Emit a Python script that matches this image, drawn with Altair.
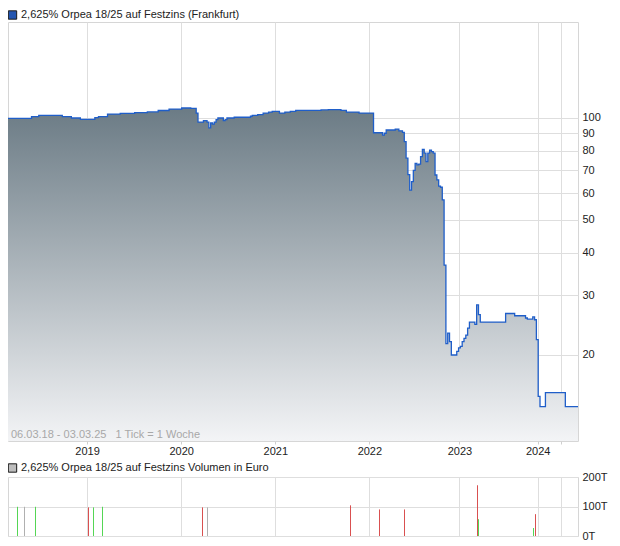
import altair as alt
import pandas as pd

# ---------------- data ----------------
TITLE_PRICE = "2,625% Orpea 18/25 auf Festzins (Frankfurt)"
TITLE_VOL = "2,625% Orpea 18/25 auf Festzins Volumen in Euro"
RANGE_TEXT = "06.03.18 - 03.03.25\u00a0\u00a0\u00a01 Tick = 1 Woche"

# x axis: one tick = one trading week (index); year boundaries as week index
year_ticks = [43.7, 95.7, 147.7, 199.7, 249.5, 292.7, 305.8]
year_labels = ["2019", "2020", "2021", "2022", "2023", "2024", ""]
week_domain = [0, 315]

# price (step series, change points)
week = [0, 13, 17, 30, 35, 40, 48, 50, 55, 62, 70, 77, 83, 89, 96, 101,
        104, 105, 108, 110, 111, 112, 113, 114, 115, 116, 119, 120, 121, 125,
        134, 135, 138, 141, 144, 146, 150, 153, 156, 159, 173, 177, 184, 187,
        194, 202, 207, 208, 209, 214, 216, 218, 219, 220, 221, 222, 223, 224,
        225, 226, 227, 228, 229, 230, 231, 232, 233, 234, 235, 236, 237, 238,
        239, 240, 241, 242, 243, 244, 245, 248, 249, 250, 251, 252, 253, 254,
        255, 258, 259, 260, 261, 275, 280, 286, 287, 290, 291, 292, 293, 294,
        297, 308, 315]
price = [99.6, 100.7, 101.6, 100.7, 99.8, 98.9, 100.0, 100.8, 102.5, 103.0,
         103.5, 104.0, 105.0, 106.0, 106.8, 106.6,
         103.2, 97.1, 98.0, 97.1, 93.3, 96.5, 95.8, 97.1, 98.7, 99.8, 98.0,
         98.7, 99.8, 100.3,
         101.0, 101.6, 102.1, 103.2, 103.9, 104.4, 103.2, 103.9, 104.4, 105.1,
         105.4, 105.6, 105.1, 103.9,
         103.2, 90.3, 88.9, 90.0, 92.0, 92.6, 91.5, 90.5, 85.0, 76.0, 68.0,
         61.2, 64.8, 70.0,
         73.4, 72.6, 73.0, 76.8, 80.7, 78.6, 74.2, 78.6, 80.3, 79.4, 78.6,
         67.8, 65.6, 62.9,
         62.4, 57.3, 36.8, 21.6, 23.2, 21.9, 20.0, 20.5, 21.0, 21.2, 21.9,
         22.4, 22.9, 24.0,
         25.0, 24.6, 28.1, 26.3, 25.0, 26.5, 26.1, 25.7, 25.5, 25.9, 25.4,
         22.2, 15.1, 14.1,
         15.5, 14.1, 14.1]
price_domain = [11.16, 191.4]
price_ticks = [20, 30, 40, 50, 60, 70, 80, 90, 100]

# volume (thousand euro)
vol_week = [5, 9, 15, 44, 47, 52, 107, 110, 189, 205, 219, 259, 260, 290, 291]
vol_value = [99, 99, 99, 97, 97, 99, 97, 97, 104, 90, 90, 172, 57, 27, 74]
vol_color = ["#55d655", "#b0b0b0", "#55d655", "#d95050", "#55d655", "#55d655",
             "#d95050", "#b0b0b0", "#d95050", "#d95050", "#d95050", "#d95050",
             "#55d655", "#55d655", "#d95050"]
vol_ticks = [0, 100, 200]

# ---------------- chart ----------------
FONT = "Liberation Sans"
W = 570

price_df = pd.DataFrame({"week": week, "price": price})
vol_df = pd.DataFrame({"week": vol_week, "vol": vol_value, "col": vol_color})

label_expr = ("[" + ",".join("'%s'" % l for l in year_labels) + "][indexof(["
              + ",".join(str(t) for t in year_ticks) + "], datum.value)]")

x_price = alt.X(
    "week:Q",
    scale=alt.Scale(domain=week_domain, nice=False, zero=False),
    axis=alt.Axis(values=year_ticks, labelExpr=label_expr, grid=True,
                  ticks=True, tickSize=3, labelPadding=1, domain=False,
                  title=None, labelOverlap=False, labelFlush=False),
)
y_price = alt.Y(
    "price:Q",
    scale=alt.Scale(type="log", domain=price_domain, nice=False),
    axis=alt.Axis(orient="right", values=price_ticks, format="d",
                  ticks=False, tickSize=0, labelPadding=4, domain=False,
                  title=None, labelOverlap=False, labelFlush=False),
)

gradient = alt.Gradient(
    gradient="linear",
    stops=[alt.GradientStop(color="#6b7b85", offset=0),
           alt.GradientStop(color="#f3f4f6", offset=1)],
    x1=1, x2=1, y1=0, y2=1,
)

area = alt.Chart(price_df).mark_area(
    interpolate="step-after", color=gradient
).encode(x=x_price, y=y_price, y2=alt.datum(price_domain[0]))

line = alt.Chart(price_df).mark_line(
    interpolate="step-after", color="#1f5ec9", strokeWidth=1.3
).encode(x="week:Q", y="price:Q")

date_txt = alt.Chart(pd.DataFrame({"t": [RANGE_TEXT]})).mark_text(
    align="left", baseline="middle", fontSize=11, color="#a8a8a8", font=FONT
).encode(x=alt.value(3), y=alt.value(413), text="t:N")

leg1 = pd.DataFrame({"label": [TITLE_PRICE]})
sq1 = alt.Chart(leg1).mark_point(
    shape="square", filled=True, size=70, fill="#2355b0", stroke="#1a1a1a",
    strokeWidth=1, opacity=1
).encode(x=alt.value(4.5), y=alt.value(-7))
tx1 = alt.Chart(leg1).mark_text(
    align="left", baseline="middle", fontSize=11, color="#222", font=FONT
).encode(x=alt.value(13), y=alt.value(-7), text="label:N")

top = alt.layer(area, line, date_txt, sq1, tx1).properties(width=W, height=419)

x_vol = alt.X(
    "week:Q",
    scale=alt.Scale(domain=week_domain, nice=False, zero=False, round=True),
    axis=alt.Axis(values=year_ticks, labels=False, ticks=False, domain=False,
                  grid=True, title=None),
)
y_vol = alt.Y(
    "vol:Q",
    scale=alt.Scale(domain=[0, 200], nice=False, zero=True),
    axis=alt.Axis(orient="right", values=vol_ticks,
                  labelExpr="datum.value + 'T'", ticks=False, tickSize=0,
                  labelPadding=4, domain=False, title=None,
                  labelOverlap=False, labelFlush=False),
)
rules = alt.Chart(vol_df).mark_rule(strokeWidth=1, xOffset=0.5).encode(
    x=x_vol, y=y_vol, y2=alt.datum(0),
    color=alt.Color("col:N", scale=None, legend=None),
)

leg2 = pd.DataFrame({"label": [TITLE_VOL]})
sq2 = alt.Chart(leg2).mark_point(
    shape="square", filled=True, size=70, fill="#bdbdbd", stroke="#1a1a1a",
    strokeWidth=1, opacity=1
).encode(x=alt.value(4.5), y=alt.value(-9))
tx2 = alt.Chart(leg2).mark_text(
    align="left", baseline="middle", fontSize=11, color="#222", font=FONT
).encode(x=alt.value(13), y=alt.value(-9), text="label:N")

bottom = alt.layer(rules, sq2, tx2).properties(width=W, height=59)

chart = alt.vconcat(top, bottom, spacing=36, bounds="flush").properties(
    padding={"left": -4, "top": 0, "right": 0, "bottom": 0}
).configure(font=FONT).configure_view(
    stroke="#d6d6d6", strokeWidth=1
).configure_axis(
    gridColor="#dedede", gridWidth=1, labelColor="#222", labelFontSize=11,
    labelFont=FONT, tickColor="#cfcfcf"
)

chart.save("out.html", embed_options={"renderer": "svg", "actions": False})
